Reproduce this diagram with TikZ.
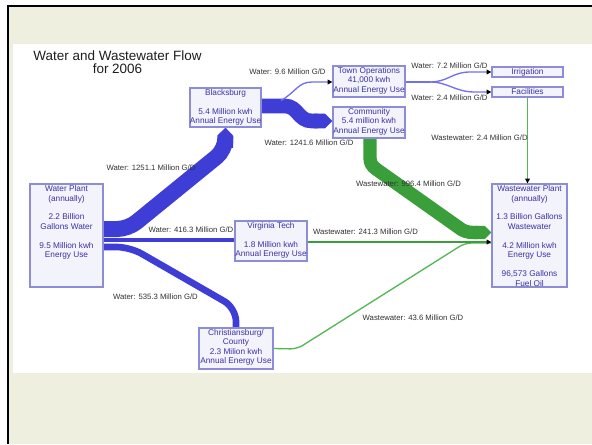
\documentclass[tikz,border=0pt]{standalone}
\usepackage{fontspec}
\setmainfont{Liberation Sans}
\usetikzlibrary{arrows.meta,backgrounds}
\definecolor{beige}{RGB}{239,239,224}
\definecolor{flowblue}{RGB}{62,62,214}
\definecolor{thinblue}{RGB}{112,112,240}
\definecolor{flowgreen}{RGB}{58,158,58}
\definecolor{thingreen}{RGB}{84,184,84}
\definecolor{boxfill}{RGB}{243,243,251}
\definecolor{boxline}{RGB}{140,140,215}
\definecolor{boxtext}{RGB}{58,50,165}
\definecolor{labeltext}{RGB}{50,50,50}
\definecolor{titletext}{RGB}{30,30,30}
\begin{document}
\begin{tikzpicture}[x=0.75pt,y=-0.75pt,
  flowbox/.style={draw=boxline, fill=boxfill, line width=1pt, inner sep=0pt, rectangle},
  boxlabel/.style={text=boxtext, font=\fontsize{6.2}{7.1}\selectfont, align=center, inner sep=0pt, anchor=north},
  flowlabel/.style={text=labeltext, font=\fontsize{5.8}{7}\selectfont, inner sep=0pt},
  titlelabel/.style={text=titletext, font=\fontsize{10.1}{10.1}\selectfont, align=center, inner sep=0pt},
  smalltip/.style={-{Triangle[color=black,length=3.5pt,width=3.5pt]}},
  thinblueflow/.style={draw=thinblue, line width=1pt, smalltip},
  thingreenflow/.style={draw=thingreen, line width=1pt},
  thickblue/.style={draw=flowblue},
  thickgreen/.style={draw=flowgreen}
]
\useasboundingbox (0,0) rectangle (592,444);

% boxes
\node[flowbox, minimum width=53.25pt, minimum height=29.25pt] (bb) at (225.5,107.5) {};
\node[flowbox, minimum width=54pt, minimum height=23.25pt] (to) at (369,81.5) {};
\node[flowbox, minimum width=54pt, minimum height=23.25pt] (cm) at (369,122.5) {};
\node[flowbox, minimum width=53.25pt, minimum height=7.5pt] (ir) at (527.5,72) {};
\node[flowbox, minimum width=53.25pt, minimum height=7.5pt] (fa) at (527.5,92) {};
\node[flowbox, minimum width=54.75pt, minimum height=77.25pt] (wp) at (66.5,235.5) {};
\node[flowbox, minimum width=54pt, minimum height=30pt] (vt) at (271,241) {};
\node[flowbox, minimum width=56.25pt, minimum height=77.25pt] (wwp) at (529.5,235.5) {};
\node[flowbox, minimum width=55.5pt, minimum height=30.75pt] (cb) at (236,348.5) {};

% box texts
\node[boxlabel] (bbt) at ([yshift=-1.3pt]bb.north) {Blacksburg\\[7pt]5.4 Million kwh\\Annual Energy Use};
\node[boxlabel] (tot) at ([yshift=-1.3pt]to.north) {Town Operations\\41,000 kwh\\Annual Energy Use};
\node[boxlabel] (cmt) at ([yshift=-1.3pt]cm.north) {Community\\5.4 million kwh\\Annual Energy Use};
\node[boxlabel, anchor=center] (irt) at (ir.center) {Irrigation};
\node[boxlabel, anchor=center] (fat) at (fa.center) {Facilities};
\node[boxlabel] (wpt) at ([yshift=-1.5pt]wp.north) {Water Plant\\(annually)\\[7.1pt]2.2 Billion\\Gallons Water\\[7.1pt]9.5 Million kwh\\Energy Use};
\node[boxlabel] (vtt) at ([yshift=-1.3pt]vt.north) {Virginia Tech\\[7pt]1.8 Million kwh\\Annual Energy Use};
\node[boxlabel] (wwpt) at ([yshift=-1.5pt]wwp.north) {Wastewater Plant\\(annually)\\[7.1pt]1.3 Billion Gallons\\Wastewater\\[7.1pt]4.2 Million kwh\\Energy Use\\[7.1pt]96,573 Gallons\\Fuel Oil};
\node[boxlabel] (cbt) at ([yshift=-1.3pt]cb.north) {Christiansburg/\\County\\2.3 Milion kwh\\Annual Energy Use};

% title
\node[titlelabel] (title) at (117.5,62) {Water and Wastewater Flow\\for 2006};

% flow labels
\node[flowlabel] (l1) at (287.5,72) {Water: 9.6 Million G/D};
\node[flowlabel] (l2) at (449.5,66) {Water: 7.2 Million G/D};
\node[flowlabel] (l3) at (449.5,98) {Water: 2.4 Million G/D};
\node[flowlabel] (l4) at (309,143) {Water: 1241.6 Million G/D};
\node[flowlabel] (l5) at (479.5,138) {Wastewater: 2.4 Million G/D};
\node[flowlabel] (l6) at (151,168) {Water: 1251.1 Million G/D};
\node[flowlabel] (l7) at (408.5,184) {Wastewater: 996.4 Million G/D};
\node[flowlabel] (l8) at (191,230) {Water: 416.3 Million G/D};
\node[flowlabel] (l9) at (365.5,232) {Wastewater: 241.3 Million G/D};
\node[flowlabel] (l10) at (155.5,297) {Water: 535.3 Million G/D};
\node[flowlabel] (l11) at (413,318) {Wastewater: 43.6 Million G/D};

\coordinate (split1) at (281,100.5);
\coordinate (split2) at (430,82);

\begin{scope}[on background layer]
  \fill[white] (0,0) rectangle (592,444);
  \fill[beige] (7,5) rectangle (592,444);
  \fill[white] (13,44) rectangle (592,373);
  \draw[black, line width=1.9pt] (8,444) -- (8,6) -- (592,6);

  % blue flows
  \draw[thickblue, line width=12pt, rounded corners=8pt, -{Triangle Cap}]
    (wp.east |- 0,229) -- (128,229) -- (225,150) -- (bb.south);
  \draw[thickblue, line width=11pt, -{Triangle Cap}]
    (bb.east |- 0,106) -- (285,106) .. controls (298,106) and (298,121) .. (312,121) -- (cm.west |- 0,121);
  \draw[thickblue, line width=3pt] (wp.east |- 0,240) -- (vt.west |- 0,240);
  \draw[thickblue, line width=5pt, rounded corners=10pt]
    (wp.east |- 0,247) -- (130,247) -- (236,308) -- (cb.north);

  % thin blue flows
  \draw[thinblueflow] (split1) .. controls (296,92) and (298,82) .. (312,82) -- (to.west |- 0,82);
  \draw[thinblue, line width=1pt] (to.east |- 0,82) -- (split2);
  \draw[thinblueflow] (split2) .. controls (448,82) and (452,72) .. (470,72) -- (ir.west);
  \draw[thinblueflow] (split2) .. controls (448,82) and (455,92) .. (475,92) -- (fa.west);

  % green flows
  \draw[thingreenflow, smalltip] (fa.south) -- (fa.south |- wwp.north);
  \draw[thickgreen, line width=10pt, -{Triangle Cap}]
    (370,0 |- cm.south) -- (370,158) .. controls (370,163) and (372,166) .. (376,169) -- (458,227)
    .. controls (463,231) and (467,232.5) .. (474,232.5) -- (wwp.west |- 0,232.5);
  \draw[thingreenflow, rounded corners=5pt] (cb.east) -- (297,349) -- (465,243) -- (wwp.west |- 0,243);
  \draw[thickgreen, line width=2.2pt, smalltip] (vt.east |- 0,242) -- (wwp.west |- 0,242);
\end{scope}
\end{tikzpicture}
\end{document}
